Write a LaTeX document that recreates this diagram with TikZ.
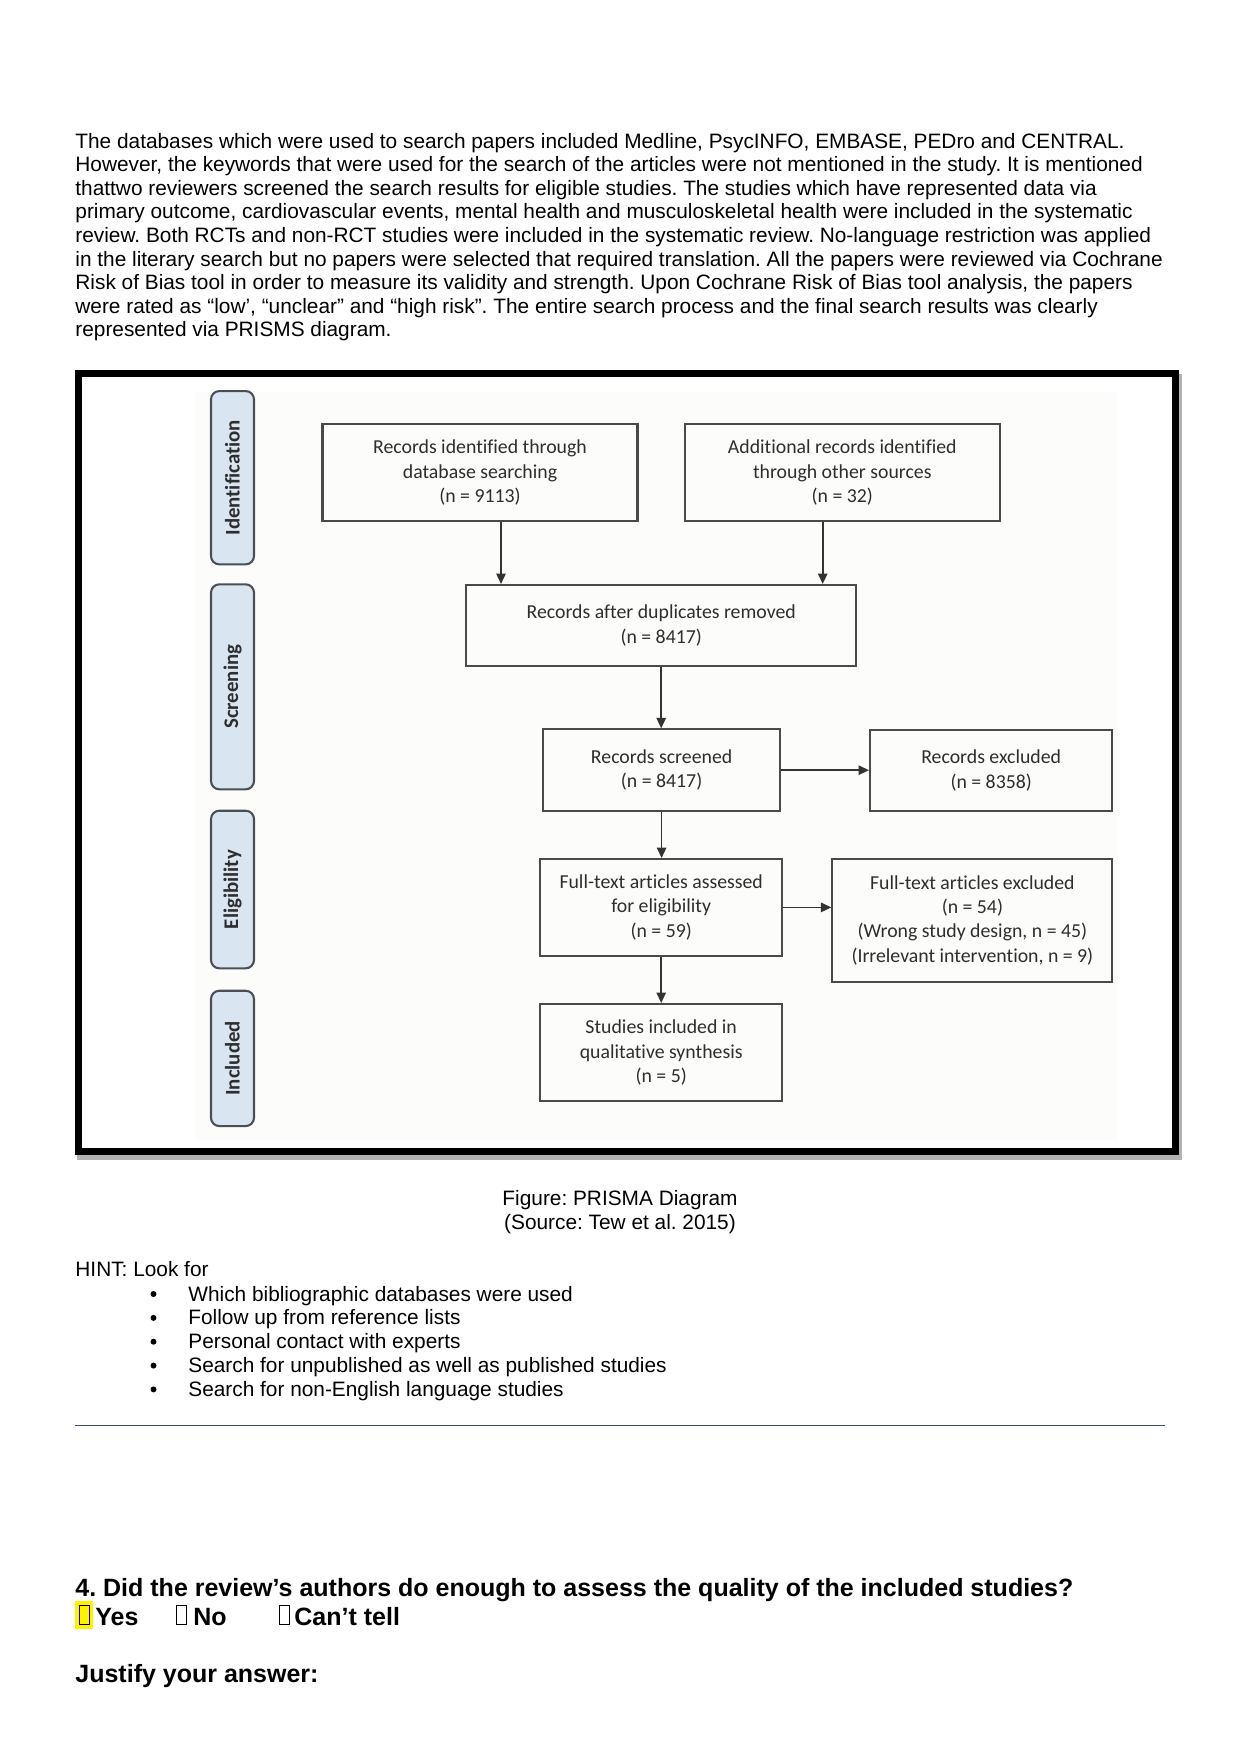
\documentclass[tikz,border=0pt]{standalone}
\usepackage{fontspec}
\setmainfont{Liberation Sans}
\newfontfamily\carlito[Ligatures=NoCommon]{Carlito}
\usetikzlibrary{arrows.meta,calc}
\definecolor{boxline}{HTML}{4A4A4A}
\definecolor{boxtext}{HTML}{2E2E2E}
\definecolor{stagefill}{HTML}{D9E6F2}
\definecolor{stageline}{HTML}{4A4F55}
\definecolor{rulecol}{HTML}{34506E}
\definecolor{imgbg}{HTML}{FCFCFB}
\begin{document}
\frenchspacing
\begin{tikzpicture}[x=0.48pt,y=-0.48pt,
  para/.style={anchor=base west, inner sep=0pt, font=\fontsize{10}{11.5}\selectfont},
  box/.style={draw=boxline, line width=1pt, align=center, inner sep=0pt, text=boxtext,
              font=\carlito\fontsize{9.5}{11.6}\selectfont},
  stage/.style={draw=stageline, fill=stagefill, line width=1pt, rounded corners=4pt, rotate=90,
              minimum height=43*0.48pt, inner sep=0pt, text=boxtext,
              font=\carlito\bfseries\fontsize{10}{12}\selectfont},
  arr/.style={draw=black!80, line width=0.8pt, -{Triangle[length=5pt,width=4.5pt]}},
  qtext/.style={anchor=base west, inner sep=0pt, font=\bfseries\fontsize{12}{13.8}\selectfont},
  bullet/.style={fill=black, circle, inner sep=0pt, minimum size=6*0.48pt},
  tofu/.style={draw=black, line width=0.4pt, minimum width=10*0.48pt, minimum height=19*0.48pt, inner sep=0pt}]
\useasboundingbox (0,0) rectangle (1241,1754);
\fill[white] (0,0) rectangle (1241,1754);

% paragraph
\node[para] (p1) at (75,148.0) {The databases which were used to search papers included Medline, PsycINFO, EMBASE, PEDro and CENTRAL.};
\node[para] (p2) at (75,171.6) {However, the keywords that were used for the search of the articles were not mentioned in the study. It is mentioned};
\node[para] (p3) at (75,195.2) {thattwo reviewers screened the search results for eligible studies. The studies which have represented data via};
\node[para] (p4) at (75,218.8) {primary outcome, cardiovascular events, mental health and musculoskeletal health were included in the systematic};
\node[para] (p5) at (75,242.4) {review. Both RCTs and non-RCT studies were included in the systematic review. No-language restriction was applied};
\node[para] (p6) at (75,266.0) {in the literary search but no papers were selected that required translation. All the papers were reviewed via Cochrane};
\node[para] (p7) at (75,289.6) {Risk of Bias tool in order to measure its validity and strength. Upon Cochrane Risk of Bias tool analysis, the papers};
\node[para] (p8) at (75,313.2) {were rated as “low’, “unclear” and “high risk”. The entire search process and the final search results was clearly};
\node[para] (p9) at (75,336.8) {represented via PRISMS diagram.};

% frame
\draw[black!30, line width=7*0.48pt] (80,377) rectangle (1178,1156);
\fill[white] (78.5,373.5) rectangle (1175.5,1151.5);
\fill[imgbg] (195,392) rectangle (1118,1140);
\draw[black, line width=7*0.48pt] (78.5,373.5) rectangle (1175.5,1151.5);

% stages
\node[stage, minimum width=173.3*0.48pt] (s1) at (232.5,477.7) {Identification};
\node[stage, minimum width=205*0.48pt] (s2) at (232.5,686.8) {Screening};
\node[stage, minimum width=157.6*0.48pt] (s3) at (232.5,889.5) {Eligibility};
\node[stage, minimum width=135.3*0.48pt] (s4) at (232.5,1058.4) {Included};

% boxes
\node[box, minimum width=315*0.48pt, minimum height=96.4*0.48pt] (b1) at (480,472.5)
  {Records identified through\\database searching\\(n = 9113)};
\node[box, minimum width=314.6*0.48pt, minimum height=96.4*0.48pt] (b2) at (842.3,472.5)
  {Additional records identified\\through other sources\\(n = 32)};
\node[box, minimum width=390.4*0.48pt, minimum height=81*0.48pt] (b3) at (661.2,625.5)
  {Records after duplicates removed\\(n = 8417)};
\node[box, minimum width=236.4*0.48pt, minimum height=81.7*0.48pt] (b4) at (661.6,770.2)
  {Records screened\\(n = 8417)};
\node[box, minimum width=242.4*0.48pt, minimum height=81*0.48pt] (b5) at (991.2,770.5)
  {Records excluded\\(n = 8358)};
\node[box, minimum width=242.4*0.48pt, minimum height=96.7*0.48pt] (b6) at (661.2,907.4)
  {Full-text articles assessed\\for eligibility\\(n = 59)};
\node[box, minimum width=280*0.48pt, minimum height=122.7*0.48pt] (b7) at (972.4,920.4)
  {Full-text articles excluded\\(n = 54)\\(Wrong study design, n = 45)\\(Irrelevant intervention, n = 9)};
\node[box, minimum width=242.4*0.48pt, minimum height=97*0.48pt] (b8) at (661.2,1052.5)
  {Studies included in\\qualitative synthesis\\(n = 5)};

% arrows
\draw[arr] ([xshift=21*0.48pt]b1.south) -- ([xshift=21*0.48pt]b1.south |- b3.north);
\draw[arr] ([xshift=-19.6*0.48pt]b2.south) -- ([xshift=-19.6*0.48pt]b2.south |- b3.north);
\draw[arr] (b3.south) -- (b3.south |- b4.north);
\draw[arr] (b4.east) -- (b4.east -| b5.west);
\draw[arr] (b4.south) -- (b4.south |- b6.north);
\draw[arr] (b6.east) -- (b6.east -| b7.west);
\draw[arr] (b6.south) -- (b6.south |- b8.north);

% caption
\node[anchor=base, inner sep=0pt, font=\fontsize{10}{11.5}\selectfont] (c1) at (620,1205) {Figure: PRISMA Diagram};
\node[anchor=base, inner sep=0pt, font=\fontsize{10}{11.5}\selectfont] (c2) at (620,1229) {(Source: Tew et al. 2015)};

% hint
\node[para] (h0) at (75,1276.5) {HINT: Look for};
\foreach \t [count=\i from 0] in {Which bibliographic databases were used,Follow up from reference lists,Personal contact with experts,Search for unpublished as well as published studies,Search for non-English language studies}{
  \node[bullet] (hb\i) at (153.5,1294+23.85*\i) {};
  \node[para] (ht\i) at (188,1301+23.85*\i) {\t};
}

% rule
\draw[rulecol, line width=1.5*0.48pt] (75,1425.5) -- (1165,1425.5);

% question
\node[qtext] (q1) at (75,1596) {4. Did the review’s authors do enough to assess the quality of the included studies?};
\fill[yellow] (75,1601) rectangle (93,1629);
\node[tofu] (t1) at (84,1615) {};
\node[qtext] (o1) at (95,1625.5) {Yes};
\node[tofu] (t2) at (181,1615) {};
\node[qtext] (o2) at (193,1625.5) {No};
\node[tofu] (t3) at (284,1615) {};
\node[qtext] (o3) at (294,1625.5) {Can’t tell};
\node[qtext] (j1) at (75,1682) {Justify your answer:};
\end{tikzpicture}
\end{document}
